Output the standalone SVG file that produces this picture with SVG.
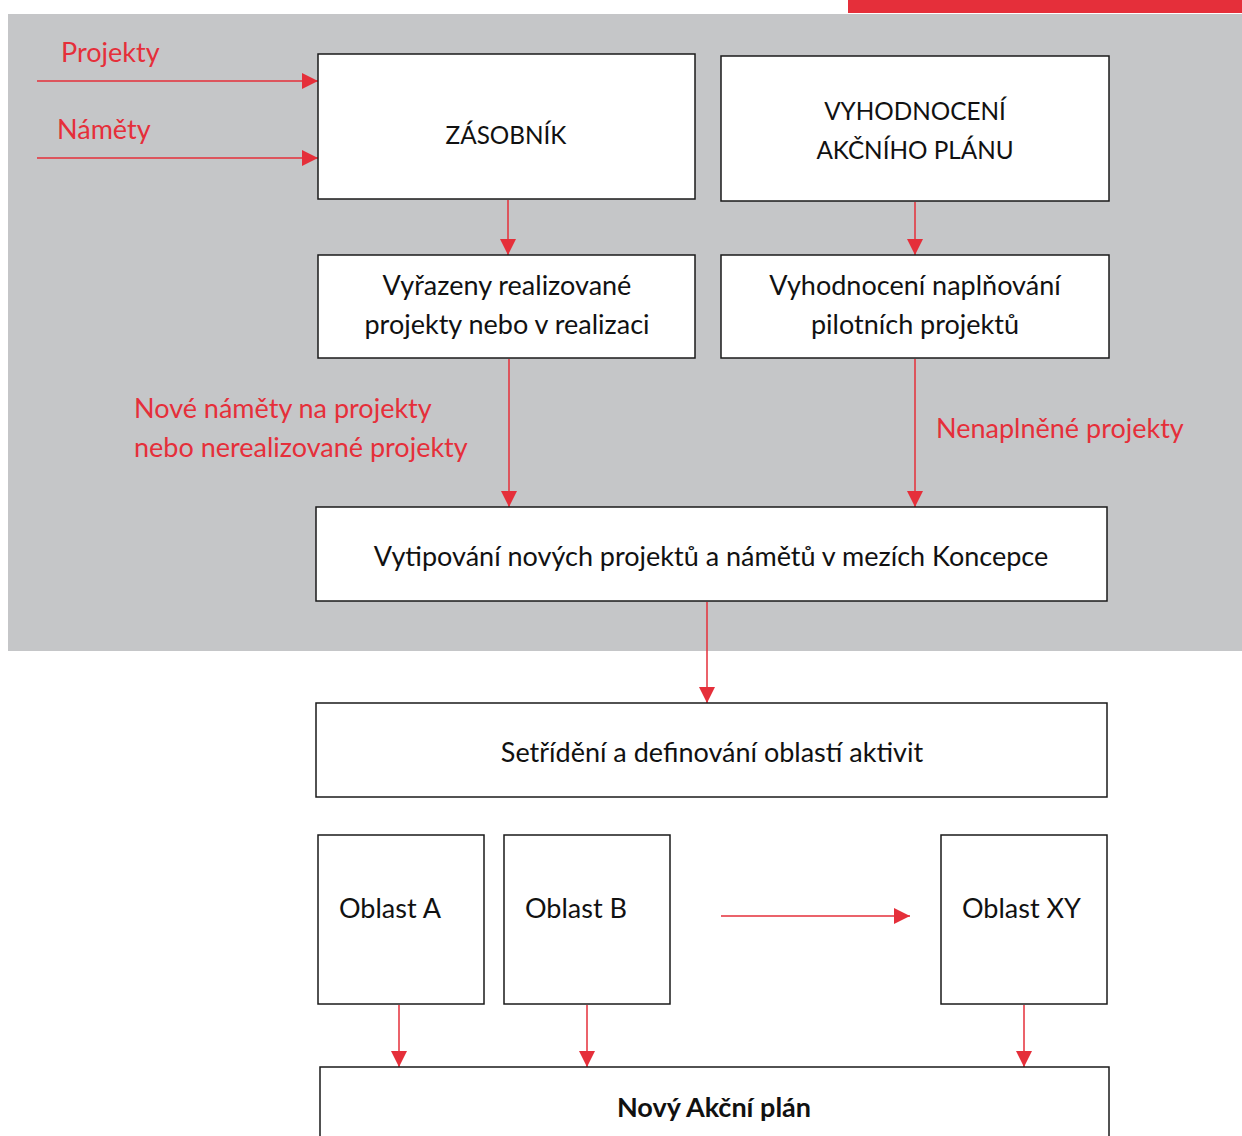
<svg xmlns="http://www.w3.org/2000/svg" width="1242" height="1136" viewBox="0 0 1242 1136">
<style>
.box{fill:#fff;stroke:#1a1a1a;stroke-width:1.5}
.t{font-family:Lato,"Open Sans",sans-serif;font-size:27px;fill:#111}
.cap{font-size:24.3px}
.c{text-anchor:middle}
.r{font-family:Lato,"Open Sans",sans-serif;font-size:27px;fill:#e52f3a}
.ln{stroke:#e52f3a;stroke-width:1.5;fill:none;marker-end:url(#ah)}
</style>
<defs>
<marker id="ah" viewBox="0 0 16 16" refX="16" refY="8" markerWidth="16" markerHeight="16" markerUnits="userSpaceOnUse" orient="auto">
<path d="M0,0 L16,8 L0,16 Z" fill="#e52f3a"/>
</marker>
</defs>
<rect x="0" y="0" width="1242" height="1136" fill="#fff"/>
<rect x="8" y="14" width="1234" height="637" fill="#c5c6c8"/>
<rect x="848" y="0" width="394" height="13" fill="#e52f3a"/>

<g id="connectors">
<line class="ln" x1="37" y1="81" x2="318" y2="81"/>
<line class="ln" x1="37" y1="158" x2="318" y2="158"/>
<line class="ln" x1="508" y1="200" x2="508" y2="255"/>
<line class="ln" x1="915" y1="202" x2="915" y2="255"/>
<line class="ln" x1="509" y1="359" x2="509" y2="507"/>
<line class="ln" x1="915" y1="359" x2="915" y2="507"/>
<line class="ln" x1="707" y1="602" x2="707" y2="703"/>
<line class="ln" x1="399" y1="1005" x2="399" y2="1067"/>
<line class="ln" x1="587" y1="1005" x2="587" y2="1067"/>
<line class="ln" x1="1024" y1="1005" x2="1024" y2="1067"/>
<line class="ln" x1="721" y1="916" x2="910" y2="916"/>
<text class="r" x="61" y="62">Projekty</text>
<text class="r" x="57" y="139">Náměty</text>
<text class="r" x="134" y="418">Nové náměty na projekty</text>
<text class="r" x="134" y="457">nebo nerealizované projekty</text>
<text class="r" x="936" y="438">Nenaplněné projekty</text>
</g>

<g id="zasobnik">
<rect class="box" x="318" y="54" width="377" height="145"/>
<text class="t cap c" x="506" y="144">ZÁSOBNÍK</text>
</g>
<g id="vyhodnoceni-ap">
<rect class="box" x="721" y="56" width="388" height="145"/>
<text class="t cap c" x="915" y="120">VYHODNOCENÍ</text>
<text class="t cap c" x="915" y="159">AKČNÍHO PLÁNU</text>
</g>
<g id="vyrazeny">
<rect class="box" x="318" y="255" width="377" height="103"/>
<text class="t c" x="507" y="295">Vyřazeny realizované</text>
<text class="t c" x="507" y="334">projekty nebo v realizaci</text>
</g>
<g id="vyhodnoceni-pp">
<rect class="box" x="721" y="255" width="388" height="103"/>
<text class="t c" x="915" y="295">Vyhodnocení naplňování</text>
<text class="t c" x="915" y="334">pilotních projektů</text>
</g>
<g id="vytipovani">
<rect class="box" x="316" y="507" width="791" height="94"/>
<text class="t c" x="711" y="566">Vytipování nových projektů a námětů v mezích Koncepce</text>
</g>
<g id="setrideni">
<rect class="box" x="316" y="703" width="791" height="94"/>
<text class="t c" x="712" y="762">Setřídění a definování oblastí aktivit</text>
</g>
<g id="oblast-a">
<rect class="box" x="318" y="835" width="166" height="169"/>
<text class="t" x="339" y="918">Oblast A</text>
</g>
<g id="oblast-b">
<rect class="box" x="504" y="835" width="166" height="169"/>
<text class="t" x="525" y="918">Oblast B</text>
</g>
<g id="oblast-xy">
<rect class="box" x="941" y="835" width="166" height="169"/>
<text class="t" x="962" y="918">Oblast XY</text>
</g>
<g id="novy-ap">
<rect class="box" x="320" y="1067" width="789" height="80"/>
<text class="t c" x="714" y="1117" font-weight="bold">Nový Akční plán</text>
</g>
</svg>
